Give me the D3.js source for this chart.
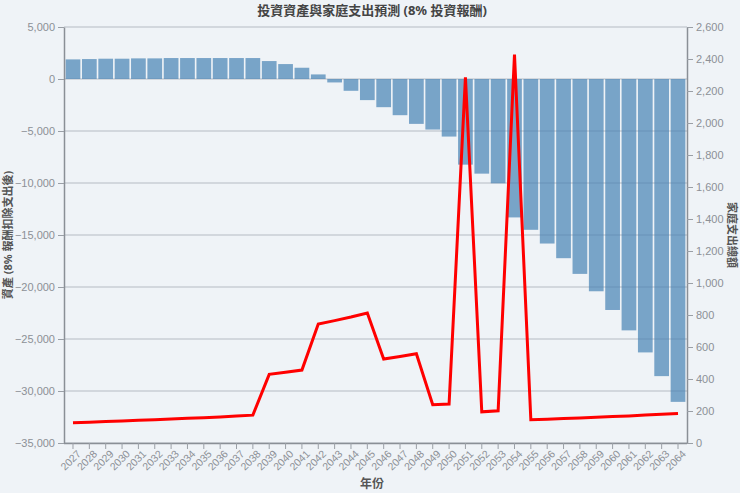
<!DOCTYPE html>
<html><head><meta charset="utf-8">
<script src="https://cdn.jsdelivr.net/npm/d3@7"></script>
<style>
html,body{margin:0;padding:0;background:#eff3f7;}
svg{display:block;font-family:"Noto Sans","Noto Sans CJK TC",sans-serif;}
</style></head><body>
<svg id="chart" width="740" height="493"></svg>
<script>
const years = d3.range(2027, 2065).map(String);
const assets = [1886,1918,1950,1950,1983,1983,2015,2015,2015,2015,2015,2015,1725,1436,1083,440,-330,-1135,-2030,-2710,-3480,-4315,-4860,-5535,-8235,-9100,-10030,-13310,-14500,-15820,-17230,-18740,-20410,-22210,-24170,-26290,-28570,-31045];
const expenses = [126,130,134,138,142,146,150,154,158,163,168,174,429,442,456,744,765,787,812,525,541,558,239,243,2285,195,201,2428,145,149,153,157,161,165,169,175,180,185];
const leftTicks = [5000,0,-5000,-10000,-15000,-20000,-25000,-30000,-35000];
const rightTicks = [0,200,400,600,800,1000,1200,1400,1600,1800,2000,2200,2400,2600];
const titleText = "投資資產與家庭支出預測 (8% 投資報酬)";
const leftLabel = "資產 (8% 報酬扣除支出後)";
const rightLabel = "家庭支出總額";
const xLabel = "年份";

const W = 740, H = 493;
const m = {top:27, right:53, bottom:50, left:64};
const svg = d3.select("#chart");
const x = d3.scaleBand().domain(years).range([m.left, W-m.right]).padding(0.1);
const yL = d3.scaleLinear().domain([-35000,5000]).range([H-m.bottom, m.top]);
const yR = d3.scaleLinear().domain([0,2600]).range([H-m.bottom, m.top]);

// gridlines
svg.append("g").selectAll("line").data(leftTicks).join("line")
  .attr("x1", m.left).attr("x2", W-m.right)
  .attr("y1", d=>yL(d)).attr("y2", d=>yL(d))
  .attr("stroke", "#c9ced4").attr("stroke-width", 1.3);

// bars
svg.append("g").selectAll("rect").data(assets).join("rect")
  .attr("x", (d,i)=>x(years[i]))
  .attr("width", x.bandwidth())
  .attr("y", d=>yL(Math.max(0,d)))
  .attr("height", d=>Math.abs(yL(d)-yL(0)))
  .attr("fill", "steelblue").attr("opacity", 0.7);

// line
const line = d3.line().x((d,i)=>x(years[i])+x.bandwidth()/2).y(d=>yR(d));
svg.append("path").datum(expenses).attr("d", line)
  .attr("fill","none").attr("stroke","#ff0000").attr("stroke-width",3).attr("stroke-linejoin","miter");

function styleAxis(g){
  g.selectAll(".domain").attr("stroke","#8a8f96").attr("stroke-width",1.5);
  g.selectAll(".tick line").attr("stroke","#9a9fa6");
  g.selectAll(".tick text").attr("fill","#8c9096").attr("font-size","11px");
}
const fmt = d3.format(",");
svg.append("g").attr("transform",`translate(${m.left},0)`)
  .call(d3.axisLeft(yL).tickValues(leftTicks).tickFormat(d=>fmt(d).replace("-","\u2212")).tickSizeOuter(0))
  .call(styleAxis);
svg.append("g").attr("transform",`translate(${W-m.right},0)`)
  .call(d3.axisRight(yR).tickValues(rightTicks).tickFormat(fmt).tickSizeOuter(0))
  .call(styleAxis);
const gx = svg.append("g").attr("transform",`translate(0,${H-m.bottom})`)
  .call(d3.axisBottom(x).tickSizeOuter(0)).call(styleAxis);
gx.select(".domain").attr("d", `M${m.left},0.5H${W-m.right}`);
gx.selectAll(".tick text").attr("font-size","10.5px")
  .attr("text-anchor","end").attr("dx","-0.2em").attr("dy","0.5em")
  .attr("transform","rotate(-45)");

// labels
svg.append("text").attr("x",372).attr("y",15).attr("text-anchor","middle")
  .attr("font-size","13px").attr("font-weight","bold").attr("fill","#444").text(titleText);
svg.append("text").attr("transform",`translate(12,${(m.top+H-m.bottom)/2}) rotate(-90)`)
  .attr("text-anchor","middle").attr("font-size","11px").attr("font-weight","bold").attr("fill","#555").text(leftLabel);
svg.append("text").attr("transform",`translate(728,${(m.top+H-m.bottom)/2}) rotate(90)`)
  .attr("text-anchor","middle").attr("font-size","11px").attr("font-weight","bold").attr("fill","#555").text(rightLabel);
svg.append("text").attr("x",372).attr("y",488).attr("text-anchor","middle")
  .attr("font-size","12px").attr("font-weight","bold").attr("fill","#555").text(xLabel);
</script></body></html>
